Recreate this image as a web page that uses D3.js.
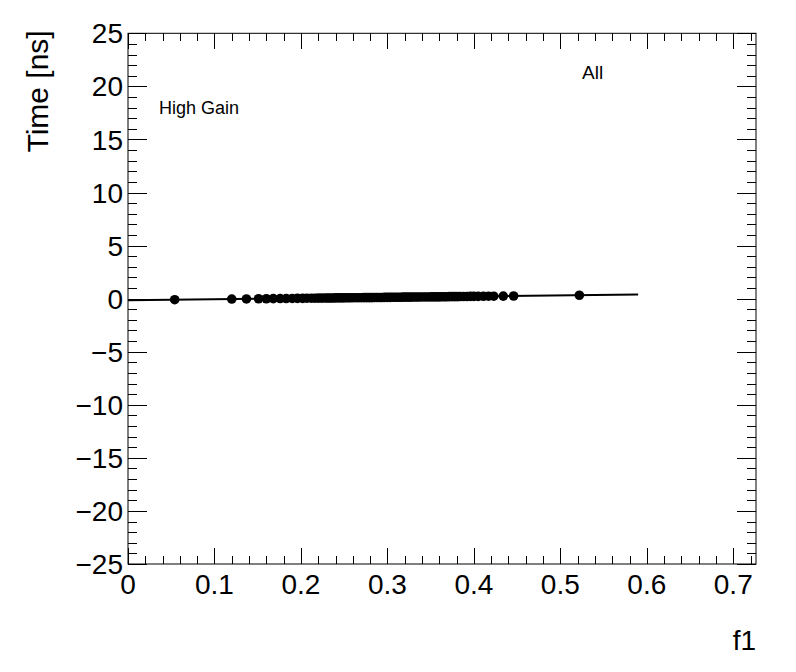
<!DOCTYPE html>
<html>
<head>
<meta charset="utf-8">
<script src="https://cdn.jsdelivr.net/npm/d3@7"></script>
<style>
  html, body { margin: 0; padding: 0; background: #fff; }
  svg { display: block; }
  text { font-family: "Liberation Sans", Arial, Helvetica, sans-serif; fill: #000; }
</style>
</head>
<body>
<svg id="chart" width="796" height="672"></svg>
<script>
// ---- data ----
const f1Values = [0.054, 0.120, 0.137, 0.151, 0.160, 0.168, 0.176, 0.183, 0.190, 0.196,
  0.202, 0.207, 0.212, 0.216, 0.220, 0.224, 0.228, 0.231, 0.234, 0.237,
  0.240, 0.243, 0.246, 0.249, 0.252, 0.255, 0.258, 0.261, 0.264, 0.267,
  0.270, 0.273, 0.276, 0.279, 0.282, 0.285, 0.288, 0.291, 0.294, 0.297,
  0.300, 0.303, 0.306, 0.309, 0.312, 0.315, 0.318, 0.321, 0.324, 0.327,
  0.330, 0.333, 0.336, 0.339, 0.342, 0.345, 0.348, 0.351, 0.354, 0.357,
  0.360, 0.363, 0.366, 0.369, 0.372, 0.375, 0.378, 0.381, 0.384, 0.388,
  0.392, 0.396, 0.400, 0.405, 0.411, 0.417, 0.423, 0.434, 0.446, 0.522];
const timeValues = [-0.10, -0.04, -0.03, -0.01, -0.01, 0.00, 0.01, 0.01, 0.02, 0.03,
  0.03, 0.04, 0.04, 0.04, 0.05, 0.05, 0.06, 0.06, 0.06, 0.06,
  0.07, 0.07, 0.07, 0.07, 0.08, 0.08, 0.08, 0.09, 0.09, 0.09,
  0.09, 0.10, 0.10, 0.10, 0.10, 0.11, 0.11, 0.11, 0.11, 0.12,
  0.12, 0.12, 0.13, 0.13, 0.13, 0.13, 0.14, 0.14, 0.14, 0.14,
  0.15, 0.15, 0.15, 0.16, 0.16, 0.16, 0.16, 0.17, 0.17, 0.17,
  0.17, 0.18, 0.18, 0.18, 0.19, 0.19, 0.19, 0.19, 0.20, 0.20,
  0.20, 0.21, 0.21, 0.21, 0.22, 0.23, 0.23, 0.24, 0.25, 0.32];
const fitX = [0.0, 0.59];
const fitY = [-0.15, 0.38];

const xTickValues = [0, 0.1, 0.2, 0.3, 0.4, 0.5, 0.6, 0.7];
const xTickLabels = ["0", "0.1", "0.2", "0.3", "0.4", "0.5", "0.6", "0.7"];
const yTickValues = [-25, -20, -15, -10, -5, 0, 5, 10, 15, 20, 25];
const yTickLabels = ["\u221225", "\u221220", "\u221215", "\u221210", "\u22125", "0", "5", "10", "15", "20", "25"];

const xTitle = "f1";
const yTitle = "Time [ns]";
const label1 = "High Gain";
const label2 = "All";

// ---- layout ----
const L = 128, R = 756, T = 33.3, B = 564;
const svg = d3.select("#chart");
const x = d3.scaleLinear().domain([0, 0.7263]).range([L, R]);
const y = d3.scaleLinear().domain([-25, 25]).range([B, T]);

const xMinor = d3.range(0, 0.7263, 0.02);
const yMinor = d3.range(-25, 25.001, 1);

const g = svg.append("g");

// frame
g.append("rect").attr("x", L).attr("y", T).attr("width", R - L).attr("height", B - T)
  .attr("fill", "none").attr("stroke", "#000").attr("stroke-width", 1);

const tickG = g.append("g").attr("stroke", "#000").attr("stroke-width", 1).attr("shape-rendering", "crispEdges");
function isMajorX(v) { return Math.abs(v * 10 - Math.round(v * 10)) < 1e-6; }
function isMajorY(v) { return Math.abs(v / 5 - Math.round(v / 5)) < 1e-6; }
xMinor.forEach(v => {
  const len = isMajorX(v) ? 16 : 8;
  const px = Math.round(x(v)) + 0.5;
  tickG.append("line").attr("x1", px).attr("x2", px).attr("y1", B).attr("y2", B - len);
  tickG.append("line").attr("x1", px).attr("x2", px).attr("y1", T).attr("y2", T + len);
});
yMinor.forEach(v => {
  const len = isMajorY(v) ? 19 : 9;
  const py = Math.round(y(v)) + 0.5;
  tickG.append("line").attr("x1", L).attr("x2", L + len).attr("y1", py).attr("y2", py);
  tickG.append("line").attr("x1", R).attr("x2", R - len).attr("y1", py).attr("y2", py);
});

// tick labels
g.selectAll(".xl").data(xTickValues).enter().append("text")
  .attr("x", d => x(d)).attr("y", 594).attr("text-anchor", "middle")
  .attr("font-size", 28).text((d, i) => xTickLabels[i]);
g.selectAll(".yl").data(yTickValues).enter().append("text")
  .attr("x", 123).attr("y", d => y(d)).attr("dy", "0.36em").attr("text-anchor", "end")
  .attr("font-size", 28).text((d, i) => yTickLabels[i]);

// titles
g.append("text").attr("x", R).attr("y", 650).attr("text-anchor", "end")
  .attr("font-size", 28).text(xTitle);
g.append("text").attr("transform", `translate(48,${T - 3}) rotate(-90)`).attr("text-anchor", "end")
  .attr("font-size", 30).text(yTitle);

// fit line
g.append("line").attr("x1", x(fitX[0])).attr("y1", y(fitY[0]))
  .attr("x2", x(fitX[1])).attr("y2", y(fitY[1]))
  .attr("stroke", "#000").attr("stroke-width", 2);

// markers
g.selectAll(".pt").data(f1Values).enter().append("circle")
  .attr("cx", d => x(d)).attr("cy", (d, i) => y(timeValues[i])).attr("r", 4.8)
  .attr("fill", "#000");

// labels
g.append("text").attr("x", 159).attr("y", 114).attr("font-size", 18).text(label1);
g.append("text").attr("x", 582).attr("y", 79).attr("font-size", 19).text(label2);
</script>
</body>
</html>
